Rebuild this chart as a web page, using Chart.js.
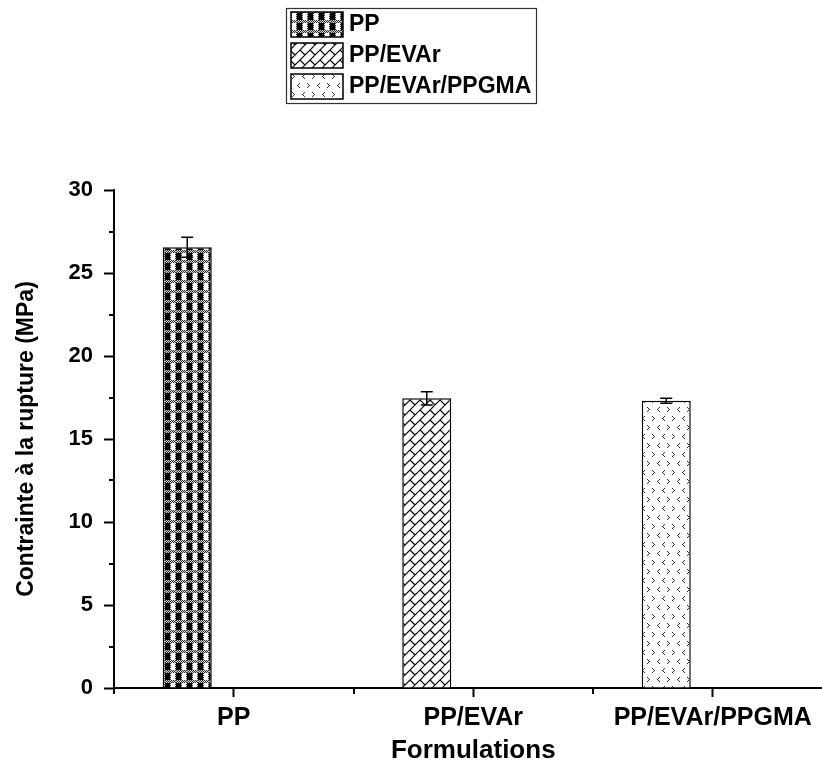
<!DOCTYPE html>
<html>
<head>
<meta charset="utf-8">
<script src="https://cdn.jsdelivr.net/npm/chart.js@4/dist/chart.umd.min.js"></script>
<style>
  html, body { margin: 0; padding: 0; background: #fff; overflow: hidden; }
  #wrap { width: 840px; height: 764px; }
</style>
</head>
<body>
<div id="wrap"><canvas id="c" width="840" height="764"></canvas></div>
<script>
// Tensile stress at break for each formulation (MPa), with standard deviation
const formulations = ['PP', 'PP/EVAr', 'PP/EVAr/PPGMA'];
const seriesNames = ['PP', 'PP/EVAr', 'PP/EVAr/PPGMA'];
const stressMean = [26.55, 17.45, 17.3];
const stressErr = [0.6, 0.4, 0.15];
const yMin = 0, yMax = 30, yStep = 5;

const FONT = "'Liberation Sans', Arial, sans-serif";

// ---- fill patterns -------------------------------------------------------
function makeTile(w, h, draw) {
  const c = document.createElement('canvas');
  c.width = w; c.height = h;
  const g = c.getContext('2d');
  g.fillStyle = '#fff';
  g.fillRect(0, 0, w, h);
  draw(g, w, h);
  return c;
}
function dot(g, x, y, col) { g.fillStyle = col; g.fillRect(x, y, 1, 1); }

// black/white squares framed by dithered grey bands
const checkTile = makeTile(11, 10, (g) => {
  for (let y = 0; y < 10; y++) {
    for (let x = 0; x < 11; x++) {
      let col;
      if (y < 3 || x === 5 || x === 10) col = ((x + y) % 2 === 0) ? '#333' : '#d0d0d0';
      else if (x < 5) col = '#000';
      else col = '#fff';
      dot(g, x, y, col);
    }
  }
});

// diagonal brick (herringbone-like) hatch
const BR = 20;
const brickTile = makeTile(BR, BR, (g) => {
  const row = BR / 2;
  g.strokeStyle = '#000';
  g.lineWidth = 1.2;
  g.beginPath();
  for (let c = -2 * BR; c <= 4 * BR; c += row) {
    g.moveTo(c + 2 * BR, -2 * BR);
    g.lineTo(-2 * BR, c + 2 * BR);
  }
  for (let k = -4; k <= 8; k++) {
    const s0 = row * k, s1 = row * k + row;
    const shift = (Math.abs(k) % 2 === 1) ? row : 0;
    for (let d = -3 * BR + shift; d <= 3 * BR; d += BR) {
      g.moveTo((s0 + d) / 2, (s0 - d) / 2);
      g.lineTo((s1 + d) / 2, (s1 - d) / 2);
    }
  }
  g.stroke();
});

// sparse little chevrons
const chevronTile = makeTile(20, 18, (g) => {
  const col = '#333';
  const lt = (x, y) => [[2, -2], [1, -1], [0, 0], [1, 1], [2, 2]].forEach(([dx, dy]) => dot(g, x + dx, y + dy, col));
  const gt = (x, y) => [[0, -2], [1, -1], [2, 0], [1, 1], [0, 2]].forEach(([dx, dy]) => dot(g, x + dx, y + dy, col));
  lt(2, 4); gt(12, 4);
  gt(7, 13); lt(17, 13);
});

const ctx = document.getElementById('c').getContext('2d');
const fills = [checkTile, brickTile, chevronTile].map(t => ctx.createPattern(t, 'repeat'));

// ---- datasets: each series only holds its own formulation's value --------
const datasets = seriesNames.map((name, i) => ({
  label: name,
  data: formulations.map((_, j) => (j === i ? stressMean[i] : null)),
  errors: formulations.map((_, j) => (j === i ? stressErr[i] : null)),
  backgroundColor: fills[i],
  borderColor: '#000',
  borderWidth: 1.5,
  stack: 'main',
  categoryPercentage: 0.7766,
  barPercentage: 0.527
}));
// empty companion group so that the bars sit left of each tick
datasets.push({ label: '', data: [], stack: 'spare', categoryPercentage: 0.7766, barPercentage: 0.527 });

// ---- plugins -------------------------------------------------------------
const errorBars = {
  id: 'errorBars',
  afterDatasetsDraw(chart) {
    const y = chart.scales.y;
    const c = chart.ctx;
    c.save();
    c.strokeStyle = '#000';
    c.lineWidth = 1.5;
    chart.data.datasets.forEach((ds, di) => {
      if (!ds.errors) return;
      const meta = chart.getDatasetMeta(di);
      ds.data.forEach((v, j) => {
        if (v === null || ds.errors[j] === null) return;
        const el = meta.data[j];
        const top = y.getPixelForValue(v + ds.errors[j]);
        const bot = y.getPixelForValue(v - ds.errors[j]);
        const half = 6;
        c.beginPath();
        c.moveTo(el.x, top); c.lineTo(el.x, bot);
        c.moveTo(el.x - half, top); c.lineTo(el.x + half, top);
        c.moveTo(el.x - half, bot); c.lineTo(el.x + half, bot);
        c.stroke();
      });
    });
    c.restore();
  }
};

const minorTicks = {
  id: 'minorTicks',
  afterDraw(chart) {
    const { x, y } = chart.scales;
    const area = chart.chartArea;
    const c = chart.ctx;
    c.save();
    c.strokeStyle = '#000';
    c.lineWidth = 2;
    c.beginPath();
    for (let v = yMin + yStep / 2; v < yMax; v += yStep) {
      const py = Math.round(y.getPixelForValue(v));
      c.moveTo(area.left - 5, py); c.lineTo(area.left, py);
    }
    const half = (x.getPixelForValue(1) - x.getPixelForValue(0)) / 2;
    for (let j = 0; j <= formulations.length; j++) {
      const px = Math.round(x.getPixelForValue(0) - half + 2 * half * j);
      c.moveTo(px, area.bottom); c.lineTo(px, area.bottom + 6);
    }
    c.stroke();
    c.restore();
  }
};

const seriesKey = {
  id: 'seriesKey',
  afterDraw(chart) {
    const c = chart.ctx;
    const items = chart.data.datasets.filter(d => d.label);
    const boxW = 250, rowH = 31;
    const x0 = Math.round(822 / 2 - boxW / 2), y0 = 8;
    c.save();
    c.strokeStyle = '#333';
    c.lineWidth = 1.2;
    c.strokeRect(x0 + 0.5, y0 + 0.5, boxW, items.length * rowH + 2);
    items.forEach((ds, i) => {
      const sy = y0 + 4 + i * rowH;
      c.fillStyle = ds.backgroundColor;
      c.fillRect(x0 + 5, sy, 52, 25);
      c.strokeStyle = '#000';
      c.lineWidth = 1.5;
      c.strokeRect(x0 + 5, sy, 52, 25);
      c.fillStyle = '#000';
      c.font = 'bold 23px ' + FONT;
      c.textBaseline = 'middle';
      c.textAlign = 'left';
      c.fillText(ds.label, x0 + 63, sy + 13);
    });
    c.restore();
  }
};

// ---- chart ---------------------------------------------------------------
new Chart(ctx, {
  type: 'bar',
  data: { labels: formulations, datasets },
  options: {
    responsive: false,
    animation: false,
    devicePixelRatio: 1,
    layout: { padding: { top: 190, left: 0, right: 7.5, bottom: 0 } },
    plugins: { legend: { display: false }, tooltip: { enabled: false } },
    scales: {
      x: {
        afterFit: (s) => { s.height = 76; },
        grid: { offset: false, drawOnChartArea: false, drawTicks: true, tickLength: 9, tickWidth: 2, tickColor: '#000' },
        border: { display: true, color: '#000', width: 2 },
        ticks: { color: '#000', padding: 6, maxRotation: 0, autoSkip: false, font: { family: FONT, size: 25, weight: 'bold' } },
        title: { display: true, text: 'Formulations', color: '#000', font: { family: FONT, size: 26, weight: 'bold' }, padding: { top: 3, bottom: -2 } }
      },
      y: {
        min: yMin, max: yMax, stacked: false,
        afterFit: (s) => { s.width = 114; },
        grid: { drawOnChartArea: false, drawTicks: true, tickLength: 10, tickWidth: 2, tickColor: '#000' },
        border: { display: true, color: '#000', width: 2 },
        ticks: { stepSize: yStep, color: '#000', padding: 11, font: { family: FONT, size: 22, weight: 'bold' } },
        title: { display: true, text: 'Contrainte à la rupture (MPa)', color: '#000', font: { family: FONT, size: 23, weight: 'bold' }, padding: { top: 13, bottom: 0 } }
      }
    }
  },
  plugins: [errorBars, minorTicks, seriesKey]
});
</script>
</body>
</html>
